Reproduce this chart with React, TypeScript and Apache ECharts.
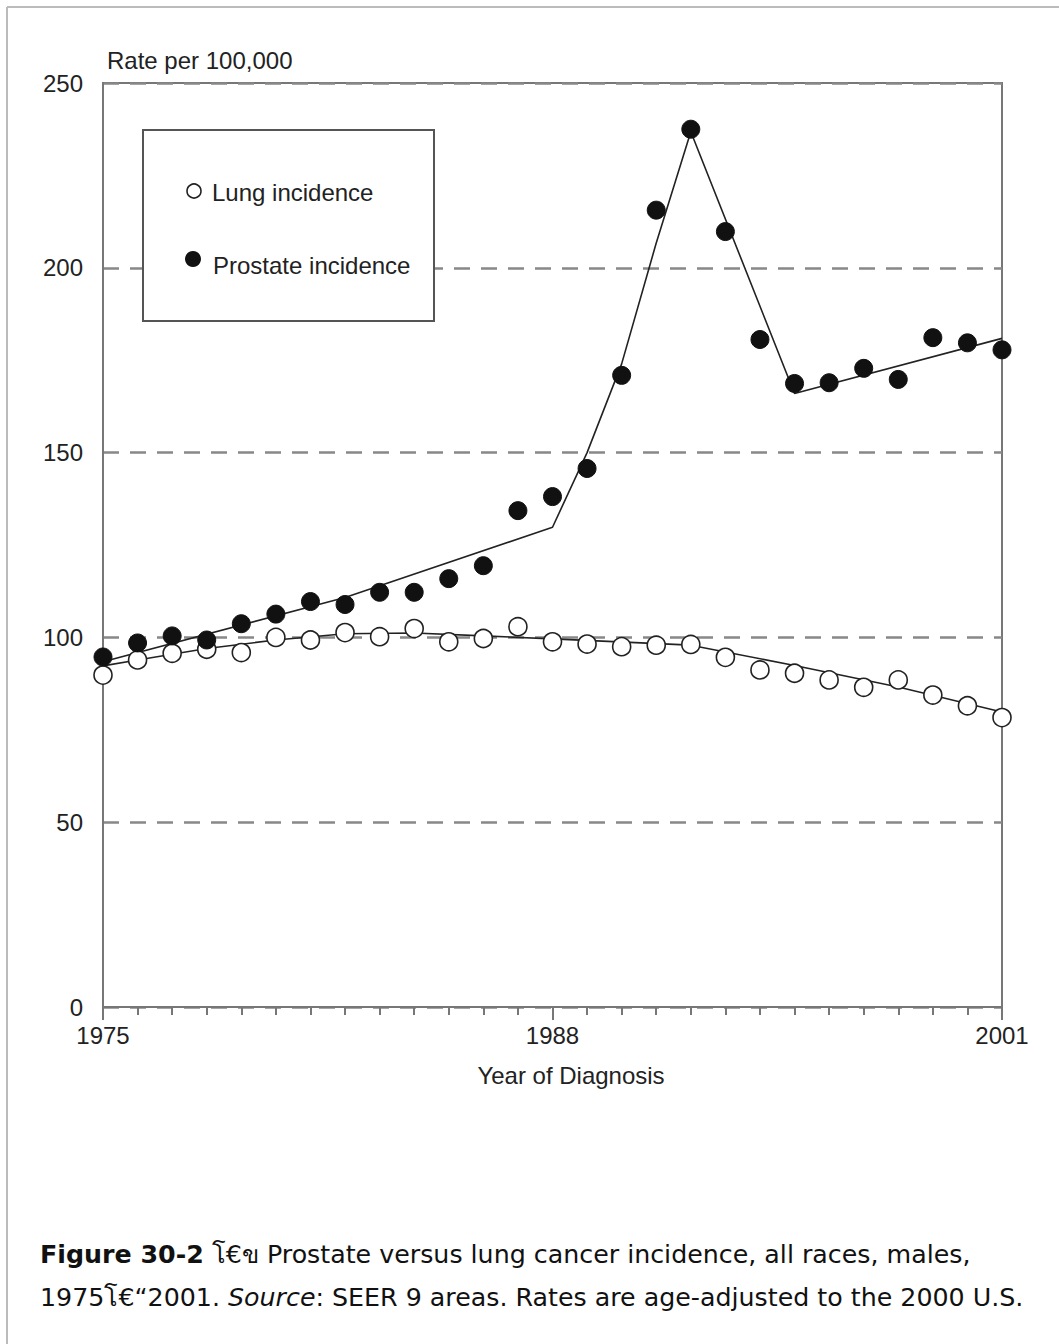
import React, { useEffect, useRef } from "react";
import * as echarts from "echarts";

const years = [1975,1976,1977,1978,1979,1980,1981,1982,1983,1984,1985,1986,1987,1988,1989,1990,1991,1992,1993,1994,1995,1996,1997,1998,1999,2000,2001];
const prostateObserved = [94.7,98.5,100.4,99.3,103.7,106.3,109.7,108.9,112.2,112.2,115.9,119.4,134.3,138.1,145.7,170.9,215.6,237.5,209.8,180.6,168.7,168.9,172.8,169.8,181.1,179.7,177.8];
const lungObserved = [89.8,93.9,95.7,96.8,95.9,100.0,99.3,101.3,100.2,102.4,98.8,99.7,102.9,98.8,98.2,97.5,97.9,98.1,94.6,91.2,90.3,88.5,86.5,88.5,84.4,81.5,78.3];
const prostateFitYears = [1975,1982,1988,1989,1990,1991,1992,1995,2001];
const prostateFitValues = [93.4,110.8,129.8,150.0,174.0,206.7,236.8,166.0,180.9];
const lungFitYears = [1975,1976,1978,1980,1982,1984,1986,1988,1992,1995,1998,2001];
const lungFitValues = [92.3,93.9,97.0,99.3,101.0,101.2,100.4,99.6,97.9,92.4,86.6,79.8];
const yTicks = [0,50,100,150,200,250];
const xLabels = [1975,1988,2001];
const legendLabels = ["Lung incidence","Prostate incidence"];

export default function App() {
  const ref = useRef<HTMLDivElement>(null);
  useEffect(() => {
    document.body.style.margin = "0";
    const chart = echarts.init(ref.current!, null, { renderer: "svg" });
    const font = "'Liberation Sans', Arial, sans-serif";
    const capFont = "'DejaVu Sans', 'Noto Sans', sans-serif";
    chart.setOption({
      animation: false,
      backgroundColor: "#ffffff",
      grid: {
        left: 103, top: 83, width: 899, height: 924,
        show: true, borderColor: "#777", borderWidth: 2, backgroundColor: "transparent",
      },
      xAxis: {
        type: "value", min: 1975, max: 2001, interval: 13,
        axisLine: { show: true, lineStyle: { color: "#777", width: 2 } },
        axisTick: { show: true, length: 13, lineStyle: { color: "#777", width: 2 } },
        minorTick: { show: true, splitNumber: 13, length: 8, lineStyle: { color: "#777", width: 2 } },
        axisLabel: {
          margin: 16, fontSize: 24, color: "#222", fontFamily: font,
          formatter: (v: number) => (xLabels.includes(v) ? String(v) : ""),
        },
        splitLine: { show: false },
      },
      yAxis: {
        type: "value", min: yTicks[0], max: yTicks[yTicks.length - 1], interval: 50,
        axisLine: { show: true, lineStyle: { color: "#777", width: 2 } },
        axisTick: { show: false },
        axisLabel: { margin: 20, fontSize: 24, color: "#222", fontFamily: font },
        splitLine: { show: true, lineStyle: { color: "#888", width: 2.5, type: [16, 11] } },
      },
      series: [
        {
          type: "line", data: prostateFitYears.map((y, i) => [y, prostateFitValues[i]]),
          showSymbol: false, symbol: "none", lineStyle: { color: "#222", width: 1.6 }, z: 2,
        },
        {
          type: "line", data: lungFitYears.map((y, i) => [y, lungFitValues[i]]),
          showSymbol: false, symbol: "none", lineStyle: { color: "#222", width: 1.6 }, z: 2,
        },
        {
          type: "scatter", data: years.map((y, i) => [y, lungObserved[i]]),
          symbol: "circle", symbolSize: 18,
          itemStyle: { color: "#ffffff", borderColor: "#222", borderWidth: 1.6, opacity: 1 }, z: 3,
        },
        {
          type: "scatter", data: years.map((y, i) => [y, prostateObserved[i]]),
          symbol: "circle", symbolSize: 18,
          itemStyle: { color: "#111", borderColor: "#111", borderWidth: 1, opacity: 1 }, z: 4,
        },
      ],
      graphic: [
        { type: "line", z: 100, shape: { x1: 7, y1: 7, x2: 1059, y2: 7 }, style: { stroke: "#bbb", lineWidth: 2 } },
        { type: "line", z: 100, shape: { x1: 7, y1: 7, x2: 7, y2: 1344 }, style: { stroke: "#bbb", lineWidth: 2 } },
        { type: "text", z: 100, x: 107, y: 60, style: { text: "Rate per 100,000", fontSize: 24, fontFamily: font, fill: "#222", textVerticalAlign: "middle" } },
        { type: "text", z: 100, x: 571, y: 1075, style: { text: "Year of Diagnosis", fontSize: 24, fontFamily: font, fill: "#222", textAlign: "center", textVerticalAlign: "middle" } },
        { type: "rect", z: 100, shape: { x: 143, y: 130, width: 291, height: 191 }, style: { fill: "#fff", stroke: "#555", lineWidth: 2 } },
        { type: "circle", z: 101, shape: { cx: 194, cy: 191, r: 7 }, style: { fill: "#fff", stroke: "#222", lineWidth: 1.6 } },
        { type: "circle", z: 101, shape: { cx: 193, cy: 259, r: 8 }, style: { fill: "#111" } },
        { type: "text", z: 101, x: 212, y: 192, style: { text: legendLabels[0], fontSize: 24, fontFamily: font, fill: "#222", textVerticalAlign: "middle" } },
        { type: "text", z: 101, x: 213, y: 265, style: { text: legendLabels[1], fontSize: 24, fontFamily: font, fill: "#222", textVerticalAlign: "middle" } },
        {
          type: "text", z: 101, x: 40, y: 1233,
          style: {
            text: "{b|Figure 30-2} โ€ข Prostate versus lung cancer incidence, all races, males,\n1975โ€“2001. {i|Source}: SEER 9 areas. Rates are age-adjusted to the 2000 U.S.",
            fontSize: 25.3, fontFamily: capFont, fill: "#111", lineHeight: 43,
            rich: {
              b: { fontWeight: "bold", fontSize: 25.3, fontFamily: capFont, fill: "#111", lineHeight: 43 },
              i: { fontStyle: "italic", fontSize: 25.3, fontFamily: capFont, fill: "#111", lineHeight: 43 },
            },
          },
        },
      ],
    });
    return () => chart.dispose();
  }, []);
  return <div ref={ref} style={{ width: 1059, height: 1344 }} />;
}
